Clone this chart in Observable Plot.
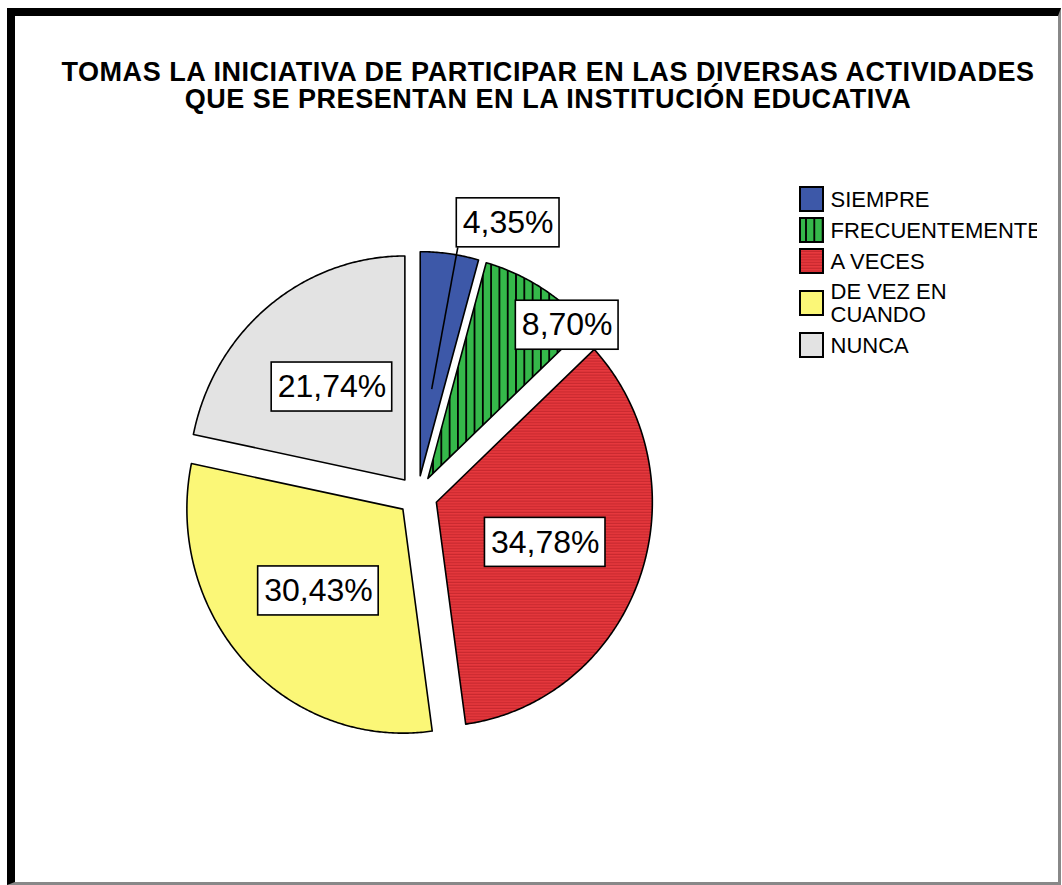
<!DOCTYPE html>
<html>
<head>
<meta charset="utf-8">
<script src="https://cdn.jsdelivr.net/npm/d3@7"></script>
<script src="https://cdn.jsdelivr.net/npm/@observablehq/plot@0.6"></script>
<style>
  html, body { margin: 0; padding: 0; background: #fff; overflow: hidden; }
  #chart { position: absolute; left: 0; top: 0; }
  #frame { position: absolute; left: 7px; top: 8px; width: 1054px; height: 877px; box-sizing: border-box;
           border-left: 8px solid #000; border-top: 8px solid #000;
           border-right: 3px solid #888; border-bottom: 3px solid #888; pointer-events: none; }
  #title { position: absolute; left: 48px; width: 1000px; top: 59px; text-align: center;
           font-family: "Liberation Sans", Arial, sans-serif; font-weight: bold; font-size: 27px;
           letter-spacing: 0.55px; line-height: 27px; color: #000; white-space: nowrap; }
</style>
</head>
<body>
<div id="chart"></div>
<div id="frame"></div>
<div id="title">TOMAS LA INICIATIVA DE PARTICIPAR EN LAS DIVERSAS ACTIVIDADES<br>QUE SE PRESENTAN EN LA INSTITUCIÓN EDUCATIVA</div>
<script>
// ---- data ----
const categories = ["SIEMPRE", "FRECUENTEMENTE", "A VECES", "DE VEZ EN CUANDO", "NUNCA"];
const percents = [4.35, 8.70, 34.78, 30.43, 21.74];
const percentLabels = ["4,35%", "8,70%", "34,78%", "30,43%", "21,74%"];

// ---- style / layout ----
const W = 1062, H = 885;
const FONT = "'Liberation Sans', Arial, sans-serif";
const fills = ["#3d58a8", "url(#pat-green)", "url(#pat-red)", "#fbf777", "#e3e3e3"];
const center = {x: 417, y: 495}, RX = 216, RY = 224, EXPLODE = 20;

const arcs = d3.pie().sort(null).value(d => d)(percents);
const slices = arcs.map((a, i) => {
  const mid = (a.startAngle + a.endAngle) / 2;
  const ax = center.x + EXPLODE * Math.sin(mid);
  const ay = center.y - EXPLODE * Math.cos(mid);
  const n = Math.max(2, Math.ceil((a.endAngle - a.startAngle) / (Math.PI / 360)));
  const pts = [{x: ax, y: ay}];
  for (let k = 0; k <= n; k++) {
    const t = a.startAngle + (a.endAngle - a.startAngle) * k / n;
    pts.push({x: ax + RX * Math.sin(t), y: ay - RY * Math.cos(t)});
  }
  return {i, cat: categories[i], ax, ay, mid, pts};
});

// label placement
const LABEL_FS = 32;
const ctx = document.createElement("canvas").getContext("2d");
ctx.font = LABEL_FS + "px " + FONT;
const labelRows = slices.map(s => {
  const p = percents[s.i];
  const small = p < 10;
  const ang = small ? s.mid + 12 * Math.PI / 180 : s.mid;
  const f = p < 5 ? 1.2 : small ? 0.94 : 0.535;
  const x = s.ax + f * RX * Math.sin(ang), y = s.ay - f * RY * Math.cos(ang);
  const w = ctx.measureText(percentLabels[s.i]).width + 12, h = 49;
  return {x, y, x1: x - w / 2, x2: x + w / 2, y1: y - h / 2, y2: y + h / 2, text: percentLabels[s.i], leader: p < 5, s};
});
const leaders = labelRows.filter(d => d.leader).map(d => ({
  x1: d.s.ax + 0.39 * RX * Math.sin(d.s.mid), y1: d.s.ay - 0.39 * RY * Math.cos(d.s.mid),
  x2: d.x1 + 1, y2: d.y2
}));

// legend
function wrap(str) {
  const words = str.split(" "); const lines = []; let cur = "";
  for (const w of words) { if (cur && (cur + " " + w).length > 11) { lines.push(cur); cur = w; } else cur = cur ? cur + " " + w : w; }
  lines.push(cur); return lines;
}
let ly = 183.5;
const legendRows = categories.map((c, i) => {
  const lines = wrap(c);
  const hgt = lines.length > 1 ? 53 : 31;
  const cy = ly + hgt / 2; ly += hgt;
  return {i, text: lines.join("\n"), cy, fill: fills[i]};
});

const marks = [];
slices.forEach(s => {
  marks.push(Plot.line(s.pts, {x: "x", y: "y", fill: fills[s.i], stroke: "#000", strokeWidth: 1.6, curve: "linear-closed"}));
});
marks.push(Plot.link(leaders, {x1: "x1", y1: "y1", x2: "x2", y2: "y2", stroke: "#000", strokeWidth: 1.6}));
marks.push(Plot.rect(labelRows, {x1: "x1", x2: "x2", y1: "y1", y2: "y2", fill: "#fff", stroke: "#000", strokeWidth: 1.6}));
marks.push(Plot.text(labelRows, {x: "x", y: "y", text: "text", fontSize: LABEL_FS, fill: "#000", fontFamily: FONT}));
legendRows.forEach(d => {
  marks.push(Plot.rect([d], {x1: () => 800, x2: () => 823, y1: r => r.cy - 12, y2: r => r.cy + 12, fill: d.fill, stroke: "#000", strokeWidth: 2}));
});
marks.push(Plot.text(legendRows, {x: () => 830, y: "cy", text: "text", textAnchor: "start", fontSize: 22, lineHeight: 1.03, fill: "#000", fontFamily: FONT, ariaLabel: "legend-text"}));

const svg = Plot.plot({
  width: W, height: H, margin: 0,
  x: {domain: [0, W], range: [0, W], axis: null},
  y: {domain: [0, H], range: [0, H], axis: null},
  style: {background: "transparent", fontFamily: FONT},
  marks
});

const ns = "http://www.w3.org/2000/svg";
const defs = document.createElementNS(ns, "defs");
defs.innerHTML = `
  <pattern id="pat-green" patternUnits="userSpaceOnUse" x="0" y="0" width="8.3" height="10">
    <rect width="8.3" height="10" fill="#35b84a"/>
    <rect x="0" width="1.8" height="10" fill="#000"/>
  </pattern>
  <pattern id="pat-red" patternUnits="userSpaceOnUse" x="0" y="0" width="10" height="2.8">
    <rect width="10" height="2.8" fill="#e8393e"/>
    <rect y="1.6" width="10" height="1.1" fill="#c4262c"/>
  </pattern>
  <clipPath id="legclip" clipPathUnits="userSpaceOnUse"><rect x="0" y="0" width="1037" height="${H}"/></clipPath>`;
svg.insertBefore(defs, svg.firstChild);
// clip the legend labels at the legend box edge
const legendTexts = Array.from(svg.querySelectorAll("text")).filter(t => legendRows.some(r => t.textContent.replace(/\s+/g, " ").trim() === r.text.replace(/\n/g, " ")));
const legendG = legendTexts.length ? legendTexts[0].closest("g") : null;
if (legendG) {
  const wrapG = document.createElementNS(ns, "g");
  wrapG.setAttribute("clip-path", "url(#legclip)");
  legendG.parentNode.insertBefore(wrapG, legendG);
  wrapG.appendChild(legendG);
}
document.getElementById("chart").appendChild(svg);
</script>
</body>
</html>
